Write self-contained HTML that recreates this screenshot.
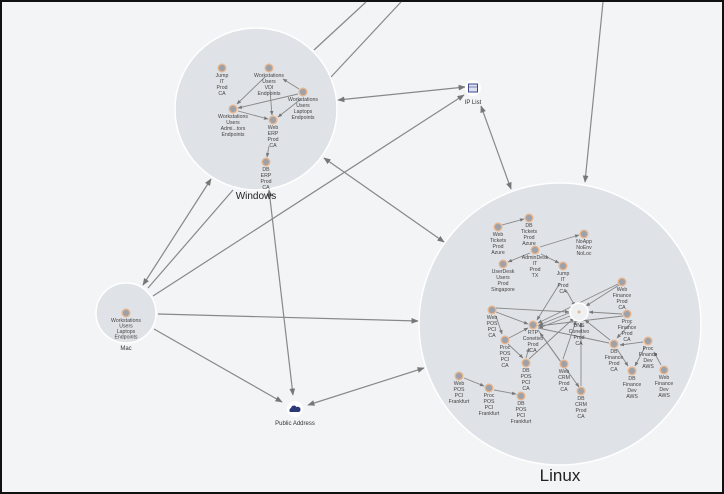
<!DOCTYPE html>
<html><head><meta charset="utf-8"><style>
html,body{margin:0;padding:0;background:#f3f4f6}
svg{display:block}
text{font-family:"Liberation Sans",sans-serif;fill:#444}
.l text{font-size:5.2px}
</style></head><body>
<svg width="724" height="494" viewBox="0 0 724 494" xmlns="http://www.w3.org/2000/svg">
<defs>
<marker id="a" viewBox="0 0 10 10" refX="9" refY="5" markerWidth="6" markerHeight="6" orient="auto-start-reverse"><path d="M0,1L10,5L0,9z" fill="#777"/></marker>
<marker id="s" viewBox="0 0 10 10" refX="9" refY="5" markerWidth="5" markerHeight="5" orient="auto-start-reverse"><path d="M0,1L10,5L0,9z" fill="#777"/></marker>
</defs>
<rect x="0" y="0" width="724" height="494" fill="#111"/>
<rect x="2" y="2" width="720" height="490" fill="#f3f4f6"/>
<circle cx="256" cy="109" r="81" fill="#dfe2e6" stroke="#fff" stroke-width="1.5"/>
<circle cx="560" cy="324" r="141" fill="#dfe2e6" stroke="#fff" stroke-width="1.5"/>
<circle cx="126" cy="313" r="30" fill="#dfe2e6" stroke="#fff" stroke-width="1.5"/>
<g stroke="#888" stroke-width="1.2" fill="none">
<line x1="314" y1="50" x2="366" y2="2"/>
<line x1="331" y1="77" x2="401" y2="2"/>
<line x1="603" y1="2" x2="585" y2="182" marker-end="url(#a)"/>
<line x1="338" y1="100" x2="465" y2="87" marker-start="url(#a)" marker-end="url(#a)"/>
<line x1="153" y1="296" x2="464" y2="95" marker-end="url(#a)"/>
<line x1="324" y1="158" x2="444" y2="242" marker-start="url(#a)" marker-end="url(#a)"/>
<line x1="143" y1="285" x2="211" y2="179" marker-start="url(#a)" marker-end="url(#a)"/>
<line x1="148" y1="288" x2="233" y2="190"/>
<line x1="158" y1="314" x2="418" y2="321" marker-end="url(#a)"/>
<line x1="154" y1="329" x2="282" y2="402" marker-end="url(#a)"/>
<line x1="269" y1="190" x2="293" y2="395" marker-start="url(#a)" marker-end="url(#a)"/>
<line x1="424" y1="368" x2="308" y2="405" marker-start="url(#a)" marker-end="url(#a)"/>
<line x1="481" y1="106" x2="511" y2="189" marker-start="url(#a)" marker-end="url(#a)"/>
</g>
<!-- Windows inner edges -->
<g stroke="#888" stroke-width="0.9" fill="none">
<line x1="265" y1="77" x2="237" y2="104" marker-end="url(#s)"/>
<line x1="299" y1="89" x2="283" y2="79" marker-end="url(#s)"/>
<line x1="298" y1="94" x2="238" y2="108" marker-end="url(#s)"/>
<line x1="301" y1="99" x2="278" y2="117" marker-end="url(#s)"/>
<line x1="270" y1="90" x2="272" y2="115" marker-end="url(#s)"/>
<line x1="238" y1="111" x2="268" y2="119" marker-end="url(#s)"/>
<line x1="269" y1="146" x2="267" y2="157" marker-end="url(#s)"/>
</g>
<!-- Linux inner edges -->
<g stroke="#888" stroke-width="0.9" fill="none">
<line x1="502" y1="225" x2="524" y2="219" marker-end="url(#s)"/>
<line x1="540" y1="247" x2="579" y2="235" marker-end="url(#s)"/>
<line x1="530" y1="253" x2="508" y2="262" marker-end="url(#s)"/>
<line x1="541" y1="254" x2="559" y2="263" marker-end="url(#s)"/>
<line x1="566" y1="290" x2="575" y2="306" marker-end="url(#s)"/>
<line x1="560" y1="283" x2="537" y2="320" marker-end="url(#s)"/>
<line x1="496" y1="308" x2="569" y2="312" marker-end="url(#s)"/>
<line x1="496" y1="312" x2="528" y2="324" marker-end="url(#s)"/>
<line x1="619" y1="285" x2="586" y2="306" marker-end="url(#s)"/>
<line x1="618" y1="284" x2="538" y2="323" marker-end="url(#s)"/>
<line x1="622" y1="314" x2="589" y2="312" marker-end="url(#s)"/>
<line x1="623" y1="316" x2="538" y2="326" marker-end="url(#s)"/>
<line x1="569" y1="313" x2="539" y2="325" marker-end="url(#s)"/>
<line x1="570" y1="316" x2="539" y2="328" marker-end="url(#s)"/>
<line x1="538" y1="328" x2="609" y2="343"/>
<line x1="610" y1="340" x2="585" y2="320" marker-end="url(#s)"/>
<line x1="631" y1="323" x2="617" y2="338" marker-end="url(#s)"/>
<line x1="643" y1="342" x2="620" y2="345" marker-end="url(#s)"/>
<line x1="617" y1="349" x2="628" y2="366" marker-end="url(#s)"/>
<line x1="645" y1="347" x2="635" y2="366" marker-end="url(#s)"/>
<line x1="661" y1="365" x2="654" y2="352" marker-end="url(#s)"/>
<line x1="496" y1="316" x2="502" y2="334" marker-end="url(#s)"/>
<line x1="509" y1="338" x2="528" y2="328" marker-end="url(#s)"/>
<line x1="508" y1="344" x2="523" y2="358" marker-end="url(#s)"/>
<line x1="526" y1="358" x2="529" y2="348" marker-end="url(#s)"/>
<line x1="529" y1="359" x2="574" y2="318" marker-end="url(#s)"/>
<line x1="538" y1="330" x2="579" y2="387" marker-end="url(#s)"/>
<line x1="563" y1="359" x2="576" y2="321" marker-end="url(#s)"/>
<line x1="560" y1="361" x2="540" y2="333" marker-end="url(#s)"/>
<line x1="581" y1="386" x2="581" y2="323" marker-end="url(#s)"/>
<line x1="464" y1="378" x2="484" y2="386" marker-end="url(#s)"/>
<line x1="494" y1="390" x2="516" y2="394" marker-end="url(#s)"/>
</g>
<g stroke="#e7b58e" stroke-width="1.4" fill="#9ea2a8">
<circle cx="222" cy="68" r="3.8"/><circle cx="269" cy="68" r="3.8"/><circle cx="303" cy="92" r="3.8"/>
<circle cx="233" cy="109" r="3.8"/><circle cx="273" cy="120" r="3.8"/><circle cx="266" cy="162" r="3.8"/>
<circle cx="126" cy="313" r="3.8"/>
<circle cx="498" cy="227" r="3.8"/><circle cx="529" cy="218" r="3.8"/><circle cx="584" cy="234" r="3.8"/>
<circle cx="535" cy="250" r="3.8"/><circle cx="503" cy="264" r="3.8"/><circle cx="563" cy="266" r="3.8"/>
<circle cx="622" cy="282" r="3.8"/><circle cx="492" cy="310" r="3.8"/><circle cx="533" cy="325" r="3.8"/>
<circle cx="627" cy="314" r="3.8"/><circle cx="505" cy="340" r="3.8"/><circle cx="526" cy="363" r="3.8"/>
<circle cx="564" cy="364" r="3.8"/><circle cx="581" cy="391" r="3.8"/><circle cx="614" cy="344" r="3.8"/>
<circle cx="648" cy="341" r="3.8"/><circle cx="632" cy="371" r="3.8"/><circle cx="664" cy="370" r="3.8"/>
<circle cx="459" cy="376" r="3.8"/><circle cx="489" cy="388" r="3.8"/><circle cx="521" cy="396" r="3.8"/>
</g>
<circle cx="579" cy="312" r="9" fill="#eef0f2" stroke="#fff" stroke-width="1.5"/>
<circle cx="579" cy="312" r="1.5" fill="#e7b58e"/>
<circle cx="473" cy="88" r="8" fill="#fff"/>
<rect x="468.5" y="84" width="9" height="8" fill="#dde0f0" stroke="#3b4a8a" stroke-width="1"/>
<line x1="469" y1="87" x2="477" y2="87" stroke="#3b4a8a" stroke-width="0.6"/>
<circle cx="295" cy="409" r="8" fill="#fff"/>
<path d="M290,412 a2.5,2.5 0 0 1 1,-4 a3,3 0 0 1 5.5,-1 a2.5,2.5 0 0 1 2.5,5 z" fill="#2c3a7a"/>
<g class="l" text-anchor="middle">
<text x="222" y="77">Jump<tspan x="222" dy="6">IT</tspan><tspan x="222" dy="6">Prod</tspan><tspan x="222" dy="6">CA</tspan></text>
<text x="269" y="77">Workstations<tspan x="269" dy="6">Users</tspan><tspan x="269" dy="6">VDI</tspan><tspan x="269" dy="6">Endpoints</tspan></text>
<text x="303" y="101">Workstations<tspan x="303" dy="6">Users</tspan><tspan x="303" dy="6">Laptops</tspan><tspan x="303" dy="6">Endpoints</tspan></text>
<text x="233" y="118">Workstations<tspan x="233" dy="6">Users</tspan><tspan x="233" dy="6">Admi...tors</tspan><tspan x="233" dy="6">Endpoints</tspan></text>
<text x="273" y="129">Web<tspan x="273" dy="6">ERP</tspan><tspan x="273" dy="6">Prod</tspan><tspan x="273" dy="6">CA</tspan></text>
<text x="266" y="171">DB<tspan x="266" dy="6">ERP</tspan><tspan x="266" dy="6">Prod</tspan><tspan x="266" dy="6">CA</tspan></text>
<text x="126" y="322">Workstations<tspan x="126" dy="5.5">Users</tspan><tspan x="126" dy="5.5">Laptops</tspan><tspan x="126" dy="5.5">Endpoints</tspan></text>
<text x="498" y="236">Web<tspan x="498" dy="6">Tickets</tspan><tspan x="498" dy="6">Prod</tspan><tspan x="498" dy="6">Azure</tspan></text>
<text x="529" y="227">DB<tspan x="529" dy="6">Tickets</tspan><tspan x="529" dy="6">Prod</tspan><tspan x="529" dy="6">Azure</tspan></text>
<text x="584" y="243">NoApp<tspan x="584" dy="6">NoEnv</tspan><tspan x="584" dy="6">NoLoc</tspan></text>
<text x="535" y="259">AdminDesk<tspan x="535" dy="6">IT</tspan><tspan x="535" dy="6">Prod</tspan><tspan x="535" dy="6">TX</tspan></text>
<text x="503" y="273">UserDesk<tspan x="503" dy="6">Users</tspan><tspan x="503" dy="6">Prod</tspan><tspan x="503" dy="6">Singapore</tspan></text>
<text x="563" y="275">Jump<tspan x="563" dy="6">IT</tspan><tspan x="563" dy="6">Prod</tspan><tspan x="563" dy="6">CA</tspan></text>
<text x="622" y="291">Web<tspan x="622" dy="6">Finance</tspan><tspan x="622" dy="6">Prod</tspan><tspan x="622" dy="6">CA</tspan></text>
<text x="492" y="319">Web<tspan x="492" dy="6">POS</tspan><tspan x="492" dy="6">PCI</tspan><tspan x="492" dy="6">CA</tspan></text>
<text x="533" y="334">RTP<tspan x="533" dy="6">Conetivo</tspan><tspan x="533" dy="6">Prod</tspan><tspan x="533" dy="6">CA</tspan></text>
<text x="579" y="327">DNS<tspan x="579" dy="6">Conetivo</tspan><tspan x="579" dy="6">Prod</tspan><tspan x="579" dy="6">CA</tspan></text>
<text x="627" y="323">Proc<tspan x="627" dy="6">Finance</tspan><tspan x="627" dy="6">Prod</tspan><tspan x="627" dy="6">CA</tspan></text>
<text x="505" y="349">Proc<tspan x="505" dy="6">POS</tspan><tspan x="505" dy="6">PCI</tspan><tspan x="505" dy="6">CA</tspan></text>
<text x="526" y="372">DB<tspan x="526" dy="6">POS</tspan><tspan x="526" dy="6">PCI</tspan><tspan x="526" dy="6">CA</tspan></text>
<text x="564" y="373">Web<tspan x="564" dy="6">CRM</tspan><tspan x="564" dy="6">Prod</tspan><tspan x="564" dy="6">CA</tspan></text>
<text x="581" y="400">DB<tspan x="581" dy="6">CRM</tspan><tspan x="581" dy="6">Prod</tspan><tspan x="581" dy="6">CA</tspan></text>
<text x="614" y="353">DB<tspan x="614" dy="6">Finance</tspan><tspan x="614" dy="6">Prod</tspan><tspan x="614" dy="6">CA</tspan></text>
<text x="648" y="350">Proc<tspan x="648" dy="6">Finance</tspan><tspan x="648" dy="6">Dev</tspan><tspan x="648" dy="6">AWS</tspan></text>
<text x="632" y="380">DB<tspan x="632" dy="6">Finance</tspan><tspan x="632" dy="6">Dev</tspan><tspan x="632" dy="6">AWS</tspan></text>
<text x="664" y="379">Web<tspan x="664" dy="6">Finance</tspan><tspan x="664" dy="6">Dev</tspan><tspan x="664" dy="6">AWS</tspan></text>
<text x="459" y="385">Web<tspan x="459" dy="6">POS</tspan><tspan x="459" dy="6">PCI</tspan><tspan x="459" dy="6">Frankfurt</tspan></text>
<text x="489" y="397">Proc<tspan x="489" dy="6">POS</tspan><tspan x="489" dy="6">PCI</tspan><tspan x="489" dy="6">Frankfurt</tspan></text>
<text x="521" y="405">DB<tspan x="521" dy="6">POS</tspan><tspan x="521" dy="6">PCI</tspan><tspan x="521" dy="6">Frankfurt</tspan></text>
</g>
<g text-anchor="middle">
<text x="256" y="199" style="font-size:10px;fill:#222">Windows</text>
<text x="560" y="481" style="font-size:17px;fill:#222">Linux</text>
<text x="126" y="350" style="font-size:6px;fill:#333">Mac</text>
<text x="473" y="104" style="font-size:6px;fill:#333">IP List</text>
<text x="295" y="425" style="font-size:6px;fill:#333">Public Address</text>
</g>
</svg>
</body></html>
